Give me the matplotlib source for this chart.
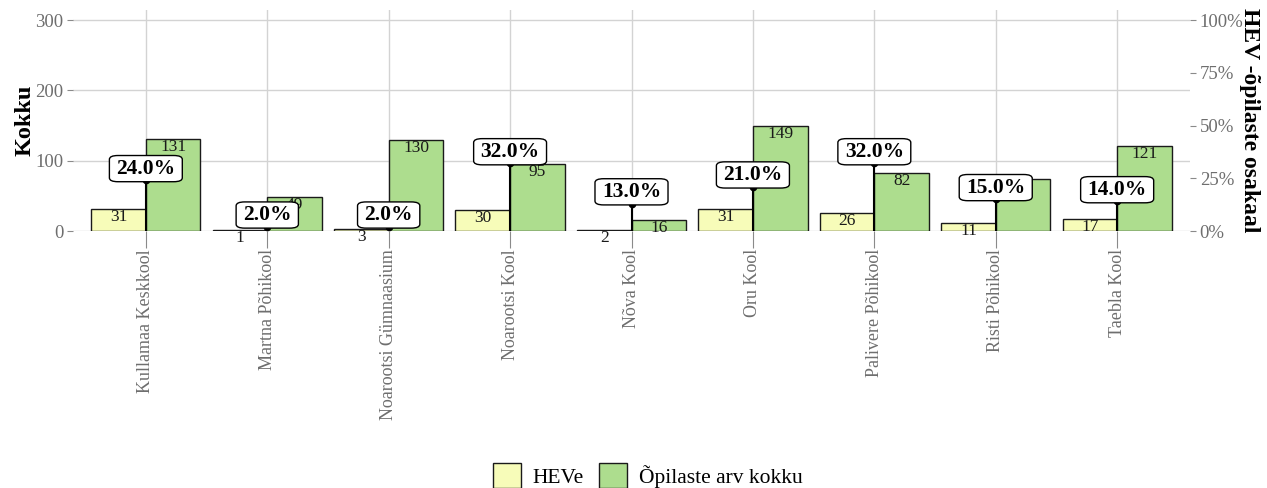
import matplotlib
matplotlib.use("Agg")
import matplotlib.pyplot as plt
import numpy as np

schools = ["Kullamaa Keskkool", "Martna Põhikool", "Noarootsi Gümnaasium",
           "Noarootsi Kool", "Nõva Kool", "Oru Kool", "Palivere Põhikool",
           "Risti Põhikool", "Taebla Kool"]
hev = [31, 1, 3, 30, 2, 31, 26, 11, 17]
total = [131, 49, 130, 95, 16, 149, 82, 74, 121]
pct = [24.0, 2.0, 2.0, 32.0, 13.0, 21.0, 32.0, 15.0, 14.0]
series_names = ["HEVe", "Õpilaste arv kokku"]
colors = ["#F7FCB9", "#ADDD8E"]
left_ticks = [0, 100, 200, 300]
right_ticks = [0, 25, 50, 75, 100]

plt.rcParams['font.family'] = ['Liberation Serif', 'DejaVu Serif']

W, H = 1267, 488
fig = plt.figure(figsize=(W / 100, H / 100), dpi=100)
px_l, px_r, px_t, px_b = 73, 1190, 9.5, 231
ax = fig.add_axes([px_l / W, 1 - px_b / H, (px_r - px_l) / W, (px_b - px_t) / H])

x = np.arange(len(schools))
bw = 0.45
ax.bar(x - bw / 2, hev, width=bw, color=colors[0], edgecolor="#1a1a1a", linewidth=1.0, zorder=2, label=series_names[0])
ax.bar(x + bw / 2, total, width=bw, color=colors[1], edgecolor="#1a1a1a", linewidth=1.0, zorder=2, label=series_names[1])

for xi, v in zip(x, hev):
    ax.text(xi - bw / 2, v, str(v), ha="center", va="top", fontsize=12.5, color="#1a1a1a", zorder=3)
for xi, v in zip(x, total):
    ax.text(xi + bw / 2, v, str(v), ha="center", va="top", fontsize=12.5, color="#1a1a1a", zorder=3)

scale = 300 / 100
pvals = [p * scale for p in pct]
ax.vlines(x, 0, pvals, color="black", linewidth=1.5, zorder=4)
ax.plot(x, pvals, "o", color="black", markersize=4.5, zorder=4)
for xi, p, pv in zip(x, pct, pvals):
    ax.text(xi, pv + 2.5, f"{p:.1f}%", ha="center", va="bottom", fontsize=15.5, fontweight="bold",
            color="black", zorder=6,
            bbox=dict(boxstyle="round,pad=0.32,rounding_size=0.4", facecolor="white",
                      edgecolor="black", linewidth=1.0, mutation_aspect=0.45))

ax.set_xlim(-0.6, len(schools) - 0.4)
ax.set_ylim(0, 315)
ax.set_yticks(left_ticks)
ax.set_xticks(x)
ax.set_xticklabels(schools, rotation=90, fontsize=13, color="#6E6E6E")
ax.tick_params(axis="x", length=12, color="#8a8a8a", pad=1)
ax.tick_params(axis="y", length=4, color="#8a8a8a", pad=3, labelsize=13.5, labelcolor="#6E6E6E")
ax.grid(True, color="#D3D3D3", linewidth=1.0, zorder=0)
ax.set_axisbelow(True)
for s in ax.spines.values():
    s.set_visible(False)
ax.set_ylabel("Kokku", fontsize=17.5, fontweight="bold", labelpad=0)

ax2 = ax.twinx()
ax2.set_ylim(0, 315 / scale)
ax2.set_yticks(right_ticks)
ax2.set_yticklabels([f"{t}%" for t in right_ticks])
ax2.tick_params(axis="y", length=4, color="#8a8a8a", pad=3, labelsize=13.5, labelcolor="#6E6E6E")
for s in ax2.spines.values():
    s.set_visible(False)
ax2.set_ylabel("HEV -õpilaste osakaal", fontsize=17, fontweight="bold", rotation=270, labelpad=12, va="top")

handles, labels = ax.get_legend_handles_labels()
fig.legend(handles, labels, loc="upper center", bbox_to_anchor=(0.511, 0.091), ncol=2,
           frameon=False, fontsize=15.5, handlelength=1.3, handleheight=1.4,
           handletextpad=0.55, columnspacing=0.7, borderpad=0.4)

fig.savefig("out.png", dpi=100)
